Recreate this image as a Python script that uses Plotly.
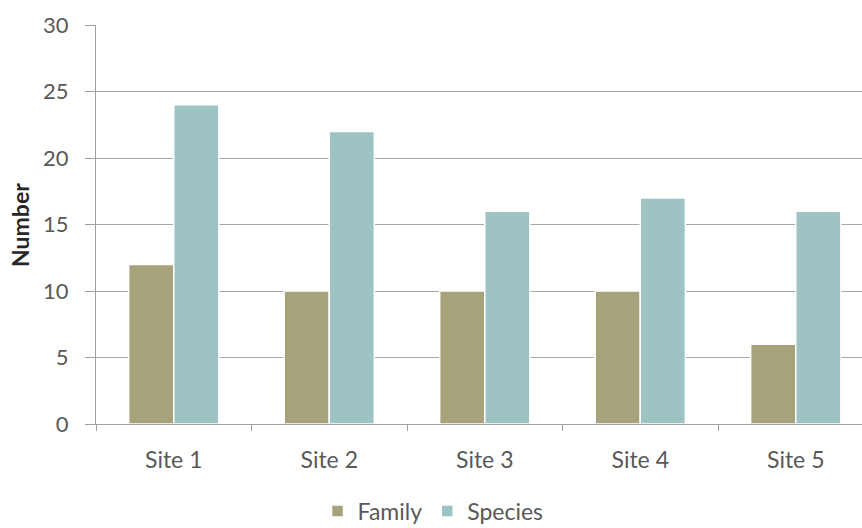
import plotly.graph_objects as go

sites = ["Site 1", "Site 2", "Site 3", "Site 4", "Site 5"]
family = [12, 10, 10, 10, 6]
species = [24, 22, 16, 17, 16]

font_family = "Lato, 'Open Sans', sans-serif"
text_color = "#595959"

fig = go.Figure()
fig.add_trace(go.Bar(name="Family", x=sites, y=family,
                     marker=dict(color="#a6a27a", line=dict(color="white", width=1.5))))
fig.add_trace(go.Bar(name="Species", x=sites, y=species,
                     marker=dict(color="#9dc3c3", line=dict(color="white", width=1.5))))

fig.update_layout(
    width=862, height=528,
    margin=dict(l=96, r=0, t=25, b=104, autoexpand=False),
    paper_bgcolor="white", plot_bgcolor="white",
    barmode="group", bargap=0.42, bargroupgap=0.0,
    font=dict(family=font_family, color=text_color, size=22),
    showlegend=True,
    legend=dict(orientation="h", x=0.44, xanchor="center", y=-0.218, yanchor="middle",
                font=dict(size=23, color=text_color), itemwidth=30, traceorder="normal",
                tracegroupgap=0),
    annotations=[dict(text="<b>Number</b>", xref="paper", yref="paper", x=-0.1, y=0.5,
                      xanchor="center", yanchor="middle", textangle=-90, showarrow=False,
                      font=dict(size=23, color="#262626", family=font_family))],
)
fig.update_xaxes(
    range=[-0.5, 4.426], showline=True, linecolor="#a0a0a0", linewidth=1,
    ticks="outside", tickson="boundaries", ticklen=6, tickcolor="#a0a0a0",
    ticklabelstandoff=15, tickfont=dict(size=23, color=text_color), showgrid=False,
    automargin=False,
)
fig.update_yaxes(
    range=[0, 30], dtick=5, showline=True, linecolor="#a0a0a0", linewidth=1,
    ticks="outside", ticklen=10, tickcolor="#a0a0a0", ticklabelstandoff=12,
    showgrid=True, gridcolor="#a8a8a8", gridwidth=1, zeroline=False,
    tickfont=dict(size=22, color=text_color), automargin=False,
)

fig.write_html("out.html")
